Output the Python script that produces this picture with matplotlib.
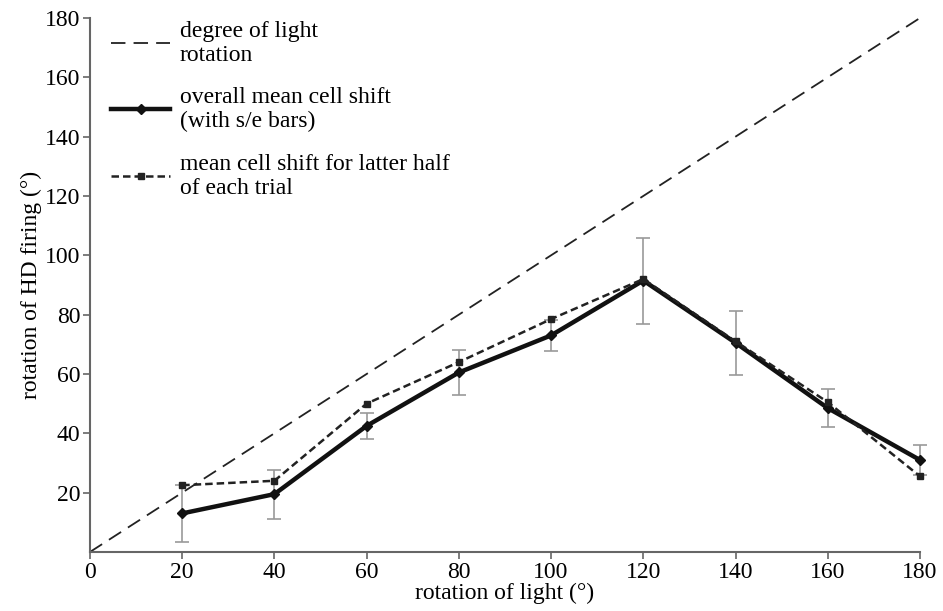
import matplotlib
matplotlib.use("Agg")
import matplotlib.pyplot as plt

plt.rcParams['font.family'] = ['Liberation Serif', 'DejaVu Serif']

light_rotation = [20, 40, 60, 80, 100, 120, 140, 160, 180]
overall_mean = [13, 19.5, 42.5, 60.5, 73, 91.5, 70.5, 48.5, 31]
overall_se = [9.5, 8.3, 4.5, 7.5, 5.3, 14.5, 10.8, 6.5, 5]
latter_half = [22.5, 24, 50, 64, 78.5, 92, 71, 50.5, 25.5]
ident = [0, 180]

x_ticks = [0, 20, 40, 60, 80, 100, 120, 140, 160, 180]
y_ticks = [20, 40, 60, 80, 100, 120, 140, 160, 180]

fig = plt.figure(figsize=(9.43, 6.11), dpi=100)
ax = fig.add_axes([0.0954, 0.0966, 0.8802, 0.874])

ax.plot(ident, ident, color='#222222', lw=1.3, dashes=(8, 4.5),
        label='degree of light\nrotation')
ax.errorbar(light_rotation, overall_mean, yerr=overall_se, fmt='none',
            ecolor='#999999', elinewidth=1.2, capsize=5, capthick=1.2, clip_on=False)
ax.plot(light_rotation, overall_mean, color='#111111', lw=3.2, marker='D', ms=5,
        clip_on=False, label='overall mean cell shift\n(with s/e bars)')
ax.plot(light_rotation, latter_half, color='#222222', lw=1.8, dashes=(3, 1.6),
        marker='s', ms=4, clip_on=False,
        label='mean cell shift for latter half\nof each trial')

ax.set_xlim(0, 180)
ax.set_ylim(0, 180)
ax.set_xticks(x_ticks)
ax.set_yticks(y_ticks)
ax.tick_params(labelsize=17, color='#666666', length=5, width=1.2, pad=2)
for side in ['top', 'right']:
    ax.spines[side].set_visible(False)
for side in ['left', 'bottom']:
    ax.spines[side].set_color('#666666')
    ax.spines[side].set_linewidth(1.5)

ax.set_xlabel('rotation of light (°)', fontsize=17, labelpad=0)
ax.set_ylabel('rotation of HD firing (°)', fontsize=17, labelpad=2)

ax.legend(loc='upper left', bbox_to_anchor=(0.0, 1.035), frameon=False,
          fontsize=17, handlelength=2.5, handletextpad=0.4, labelspacing=0.9)

fig.savefig('out.png', dpi=100)
